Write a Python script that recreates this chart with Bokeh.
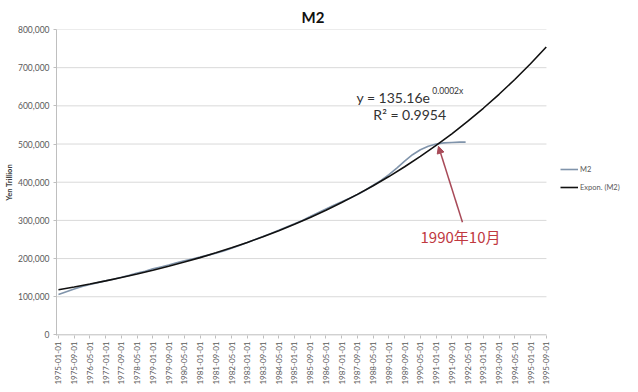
import math
from bokeh.plotting import figure
from bokeh.models import (Range1d, FixedTicker, NumeralTickFormatter, Label, Arrow,
                          NormalHead, Legend, LegendItem, ColumnDataSource)
from bokeh.embed import file_html
from bokeh.resources import INLINE

# ---------------- data ----------------
tick_labels = [
    "1975-01-01", "1975-09-01", "1976-05-01", "1977-01-01", "1977-09-01", "1978-05-01",
    "1979-01-01", "1979-09-01", "1980-05-01", "1981-01-01", "1981-09-01", "1982-05-01",
    "1983-01-01", "1983-09-01", "1984-05-01", "1985-01-01", "1985-09-01", "1986-05-01",
    "1987-01-01", "1987-09-01", "1988-05-01", "1989-01-01", "1989-09-01", "1990-05-01",
    "1991-01-01", "1991-09-01", "1992-05-01", "1993-01-01", "1993-09-01", "1994-05-01",
    "1995-01-01", "1995-09-01",
]

# months since 1975-01
m2_month = [0, 4, 8, 12, 16, 20, 24, 28, 32, 36, 40, 44, 48, 52, 56, 60, 64, 68, 72, 76,
            80, 84, 88, 92, 96, 100, 104, 108, 112, 116, 120, 124, 128, 132, 136, 140,
            144, 148, 152, 156, 160, 164, 168, 172, 176, 180, 184, 188, 192, 196, 200,
            204, 207]
m2_values = [106000, 113000, 120000, 127000, 132000, 137000, 142000, 146000, 151000,
             156000, 162000, 167000, 173000, 178000, 183000, 189000, 194000, 199000,
             204000, 209000, 214000, 220000, 227000, 234000, 242000, 250000, 258000,
             266000, 274000, 283000, 291000, 300000, 310000, 320000, 330000, 340000,
             349000, 358000, 368000, 379000, 392000, 405000, 420000, 437000, 455000,
             472000, 485000, 494000, 500000, 503000, 504000, 505000, 505000]

trend_month = [0, 8, 16, 24, 32, 40, 48, 56, 64, 72, 80, 88, 96, 104, 112, 120, 128, 136,
               144, 152, 160, 168, 176, 184, 192, 200, 208, 216, 224, 232, 240, 248]
trend_values = [118300, 125600, 133300, 141500, 150200, 159500, 169300, 179700, 190800,
                202500, 215000, 228200, 242300, 257200, 273000, 289800, 307700, 326600,
                346700, 368100, 390800, 414800, 440400, 467500, 496300, 526800, 559300,
                593700, 630300, 669100, 710300, 754000]

y_ticks = [0, 100000, 200000, 300000, 400000, 500000, 600000, 700000, 800000]

FONT = "Lato"

def month_index(lbl):
    y, m, _ = lbl.split("-")
    return (int(y) - 1975) * 12 + int(m) - 1

tick_pos = [month_index(t) for t in tick_labels]

X0, X1 = -1.0, 248.1          # extent of the plotting area proper
XR = 294.9                     # frame extended to the right to host the legend

# ---------------- figure ----------------
p = figure(width=638, height=392, output_backend="svg", toolbar_location=None,
           x_range=Range1d(X0, XR), y_range=Range1d(-1500, 800000),
           min_border_left=56, min_border_right=0, min_border_top=29, min_border_bottom=57)
p.outline_line_color = None
p.background_fill_color = "white"
p.border_fill_color = "white"

p.title.text = "M2"
p.title.align = "left"
p.title.offset = 245
p.title.text_font = FONT
p.title.text_font_size = "15px"
p.title.text_font_style = "bold"
p.title.text_color = "#111111"
p.title.standoff = 8

p.xgrid.grid_line_color = None
p.ygrid.grid_line_color = None

# horizontal gridlines limited to the plotting area
p.segment(x0=[X0] * len(y_ticks), x1=[X1] * len(y_ticks), y0=y_ticks, y1=y_ticks,
          line_color="#d9d9d9", line_width=1)
# bottom axis line
p.segment(x0=[X0], x1=[X1], y0=[0], y1=[0], line_color="#bfbfbf", line_width=1)

# y axis
p.yaxis.ticker = FixedTicker(ticks=y_ticks)
p.yaxis.formatter = NumeralTickFormatter(format="0,0")
p.yaxis.axis_line_color = "#bfbfbf"
p.yaxis.major_tick_line_color = "#bfbfbf"
p.yaxis.major_tick_out = 3
p.yaxis.major_tick_in = 0
p.yaxis.minor_tick_line_color = None
p.yaxis.major_label_text_font = FONT
p.yaxis.major_label_text_font_size = "8.5px"
p.yaxis.major_label_text_color = "#595959"
p.yaxis.major_label_standoff = 4
p.yaxis.axis_label = "Yen Trillion"
p.yaxis.axis_label_text_font = FONT
p.yaxis.axis_label_text_font_size = "7.5px"
p.yaxis.axis_label_text_font_style = "bold"
p.yaxis.axis_label_text_color = "#404040"
p.yaxis.axis_label_standoff = 1

# x axis
p.xaxis.ticker = FixedTicker(ticks=tick_pos)
p.xaxis.major_label_overrides = {pos: lbl for pos, lbl in zip(tick_pos, tick_labels)}
p.xaxis.major_label_orientation = math.pi / 2
p.xaxis.axis_line_color = None
p.xaxis.major_tick_line_color = "#bfbfbf"
p.xaxis.major_tick_out = 3
p.xaxis.major_tick_in = 0
p.xaxis.minor_tick_line_color = None
p.xaxis.major_label_text_font = FONT
p.xaxis.major_label_text_font_size = "8px"
p.xaxis.major_label_text_color = "#595959"
p.xaxis.major_label_standoff = 3

# lines
m2_src = ColumnDataSource(dict(x=m2_month, y=m2_values))
tr_src = ColumnDataSource(dict(x=trend_month, y=trend_values))
m2_line = p.line("x", "y", source=m2_src, line_color="#8094ab", line_width=1.6)
tr_line = p.line("x", "y", source=tr_src, line_color="#111111", line_width=1.6)

# legend
legend = Legend(items=[LegendItem(label="M2", renderers=[m2_line]),
                       LegendItem(label="Expon. (M2)", renderers=[tr_line])],
                location=(504, 143), orientation="vertical",
                border_line_color=None, background_fill_alpha=0,
                glyph_width=18, glyph_height=10, label_height=10,
                label_text_font=FONT, label_text_font_size="7.5px",
                label_text_color="#595959", label_standoff=2,
                spacing=8, padding=0, margin=0)
p.add_layout(legend)

# equation
p.add_layout(Label(x=151.5, y=622000, text="y = 135.16e", text_font=FONT,
                   text_font_size="14px", text_color="#333333",
                   text_align="left", text_baseline="middle"))
p.add_layout(Label(x=190.1, y=640000, text="0.0002x", text_font=FONT,
                   text_font_size="8.5px", text_color="#333333",
                   text_align="left", text_baseline="middle"))
p.add_layout(Label(x=160.1, y=578000, text="R² = 0.9954", text_font=FONT,
                   text_font_size="14px", text_color="#333333",
                   text_align="left", text_baseline="middle"))

# annotation
p.add_layout(Arrow(end=NormalHead(size=7, fill_color="#a84a58", line_color="#a84a58"),
                   x_start=205.4, y_start=295000, x_end=193.2, y_end=494000,
                   line_color="#a84a58", line_width=1.5))
p.add_layout(Label(x=204.4, y=259000, text="1990年10月", text_font="Noto Sans CJK SC",
                   text_font_size="15px", text_color="#c0393f",
                   text_align="center", text_baseline="middle"))

open("out.html", "w").write(file_html(p, INLINE))
